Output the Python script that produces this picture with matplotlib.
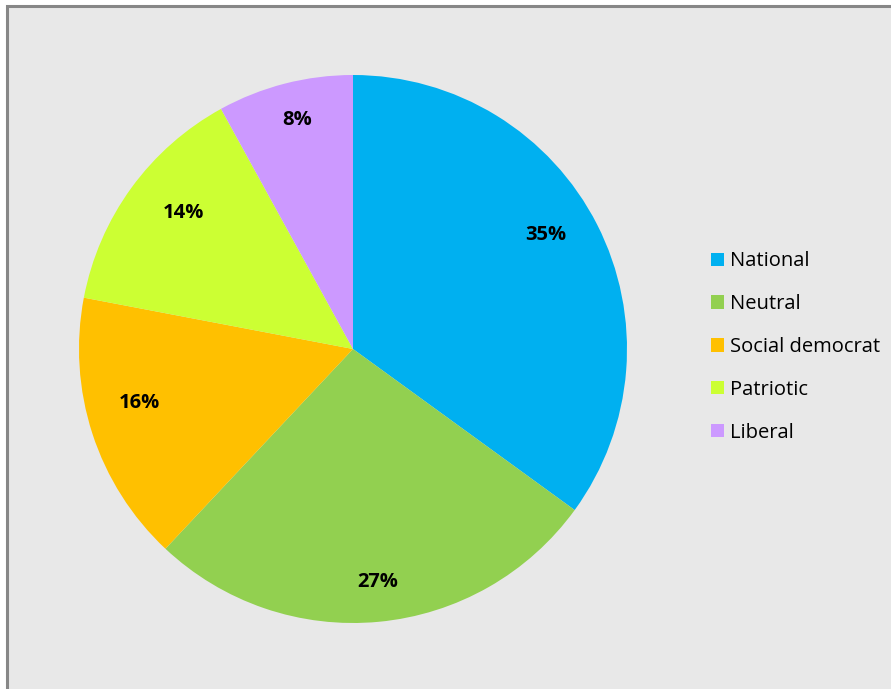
import numpy as np
import matplotlib.pyplot as plt
from matplotlib.patches import Rectangle

labels = ["National", "Neutral", "Social democrat", "Patriotic", "Liberal"]
shares = [35, 27, 16, 14, 8]
colors = ["#00B0F0", "#92D050", "#FFC000", "#CCFF33", "#CC99FF"]
# label distance from centre for each percentage, as fraction of radius
label_r = [0.83, 0.85, 0.80, 0.80, 0.88]
label_shift = [(-0.035, 0.04), (0.01, -0.005), (-0.02, 0.05), (0.03, 0.025), (0.015, -0.015)]

plt.rcParams['font.family'] = ['Open Sans', 'DejaVu Sans']

fig = plt.figure(figsize=(8.91, 6.89), dpi=100)
fig.patch.set_facecolor("white")

# grey chart area with a border on the top/left
fig.patches.append(Rectangle((7 / 891, -0.01), 1.0, (689 - 6) / 689 + 0.01,
                             transform=fig.transFigure, facecolor="#E8E8E8",
                             edgecolor="#878787", linewidth=2.2, zorder=-5))

cx, cy, r = 353, 349, 274
ax = fig.add_axes([(cx - r) / 891, (689 - cy - r) / 689, 2 * r / 891, 2 * r / 689])
ax.set_facecolor("none")

wedges, _, autotexts = ax.pie(shares, colors=colors, startangle=90, counterclock=False,
                              autopct=lambda p: f"{p:.0f}%", pctdistance=0.82,
                              wedgeprops=dict(linewidth=0),
                              textprops=dict(fontsize=14.5, fontweight="bold", color="black"))

theta = 90.0
for i, (t, s) in enumerate(zip(autotexts, shares)):
    mid = np.deg2rad(theta - s * 3.6 / 2)
    theta -= s * 3.6
    dx, dy = label_shift[i]
    t.set_position((label_r[i] * np.cos(mid) + dx, label_r[i] * np.sin(mid) + dy))

ax.set_xlim(-1, 1)
ax.set_ylim(-1, 1)
ax.set_aspect("equal")
ax.axis("off")

fig.legend(wedges, labels, loc="center left", bbox_to_anchor=(711 / 891, 1 - 347 / 689),
           frameon=False, fontsize=14.5, handlelength=0.65, handleheight=0.65,
           handletextpad=0.3, labelspacing=1.13, borderaxespad=0, borderpad=0)

fig.savefig("out.png", dpi=100)
